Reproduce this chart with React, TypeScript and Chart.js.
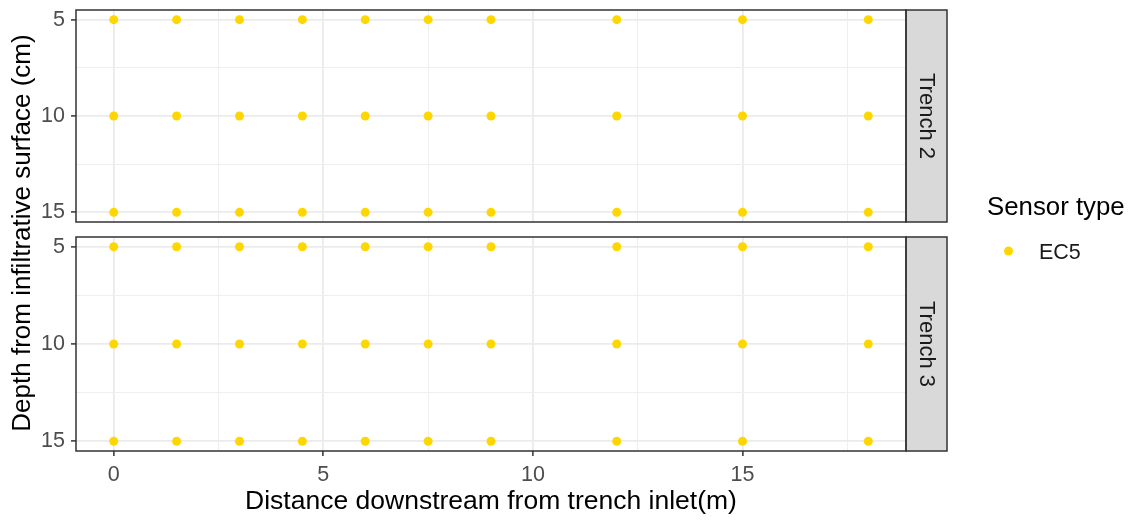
import { useEffect, useRef } from "react";
import { Chart, registerables } from "chart.js";

Chart.register(...registerables);

// Axis ticks (major labelled, minor grid only)
const distanceTicks = [0, 5, 10, 15];
const distanceMinorTicks = [2.5, 7.5, 12.5, 17.5];
const depthTicks = [5, 10, 15];
const depthMinorTicks = [7.5, 12.5];

// Axis limits (data range with 5% expansion)
const distanceLimits = [-0.9, 18.9];
const depthLimits = [4.5, 15.5];

// Sensor distances downstream (m) installed at each depth, per trench
const trench2At5cm = [0, 1.5, 3, 4.5, 6, 7.5, 9, 12, 15, 18];
const trench2At10cm = [0, 1.5, 3, 4.5, 6, 7.5, 9, 12, 15, 18];
const trench2At15cm = [0, 1.5, 3, 4.5, 6, 7.5, 9, 12, 15, 18];
const trench3At5cm = [0, 1.5, 3, 4.5, 6, 7.5, 9, 12, 15, 18];
const trench3At10cm = [0, 1.5, 3, 4.5, 6, 7.5, 9, 12, 15, 18];
const trench3At15cm = [0, 1.5, 3, 4.5, 6, 7.5, 9, 12, 15, 18];

const trenchLabels = ["Trench 2", "Trench 3"];
const sensorTypes = ["EC5"];
const sensorColors = ["#FFD700"];

const xTitle = "Distance downstream from trench inlet(m)";
const yTitle = "Depth from infiltrative surface (cm)";
const legendTitle = "Sensor type";

const FONT = "Arial, 'Liberation Sans', sans-serif";
const W = 1134;
const H = 520;
const PLOT_LEFT = 76;
const PLOT_RIGHT = 906;
const STRIP_W = 41;
const TOP_CANVAS_H = 236;
const TICK_FONT = 21.5;
const TITLE_FONT = 26.5;

type Pt = { x: number; y: number };

function toPoints(rows: [number, number[]][]): Pt[] {
  const out: Pt[] = [];
  rows.forEach(([depth, xs]) => xs.forEach((x) => out.push({ x, y: depth })));
  return out;
}

const trench2Points = toPoints([
  [5, trench2At5cm],
  [10, trench2At10cm],
  [15, trench2At15cm],
]);
const trench3Points = toPoints([
  [5, trench3At5cm],
  [10, trench3At10cm],
  [15, trench3At15cm],
]);

const distanceGrid = [...distanceTicks, ...distanceMinorTicks].sort((a, b) => a - b);
const depthGrid = [...depthTicks, ...depthMinorTicks].sort((a, b) => a - b);

const isMajor = (list: number[], v: any) => list.includes(Number(v));

function panelDecor(label: string) {
  return {
    id: "panelDecor",
    afterDraw(chart: any) {
      const { ctx, chartArea: a } = chart;
      const h = a.bottom - a.top;
      ctx.save();
      ctx.fillStyle = "#D9D9D9";
      ctx.fillRect(a.right, a.top, STRIP_W, h);
      ctx.strokeStyle = "#333333";
      ctx.lineWidth = 1.5;
      ctx.strokeRect(a.right, a.top, STRIP_W, h);
      ctx.strokeRect(a.left, a.top, a.right - a.left, h);
      ctx.translate(a.right + STRIP_W / 2, (a.top + a.bottom) / 2);
      ctx.rotate(Math.PI / 2);
      ctx.font = `22px ${FONT}`;
      ctx.fillStyle = "#1A1A1A";
      ctx.textAlign = "center";
      ctx.textBaseline = "middle";
      ctx.fillText(label, 0, 0);
      ctx.restore();
    },
  };
}

// Shared y title and the legend, drawn on the full-page canvas
const pageDecor = {
  id: "pageDecor",
  afterDraw(chart: any) {
    const { ctx } = chart;
    ctx.save();
    ctx.fillStyle = "#000000";
    ctx.font = `26px ${FONT}`;
    ctx.textAlign = "center";
    ctx.textBaseline = "middle";
    ctx.translate(23, 233);
    ctx.rotate(-Math.PI / 2);
    ctx.fillText(yTitle, 0, 0);
    ctx.restore();

    ctx.save();
    ctx.textAlign = "left";
    ctx.textBaseline = "middle";
    ctx.fillStyle = "#000000";
    ctx.font = `25.8px ${FONT}`;
    ctx.fillText(legendTitle, 987, 207.5);
    sensorTypes.forEach((name, i) => {
      const y = 251 + i * 30;
      ctx.beginPath();
      ctx.fillStyle = sensorColors[i];
      ctx.arc(1008.5, y, 4.5, 0, Math.PI * 2);
      ctx.fill();
      ctx.fillStyle = "#1A1A1A";
      ctx.font = `${TICK_FONT}px ${FONT}`;
      ctx.fillText(name, 1039, y + 2);
    });
    ctx.restore();
  },
};

function buildConfig(points: Pt[], label: string, showX: boolean, padTop: number, padBottom: number, extra: any[]) {
  return {
    type: "scatter" as const,
    data: {
      datasets: [
        {
          label: sensorTypes[0],
          data: points,
          pointRadius: 4.5,
          pointHoverRadius: 4.5,
          pointBackgroundColor: sensorColors[0],
          pointBorderWidth: 0,
        },
      ],
    },
    options: {
      animation: false as const,
      responsive: false,
      devicePixelRatio: 1,
      events: [],
      layout: { padding: { left: 0, right: W - PLOT_RIGHT, top: padTop, bottom: padBottom } },
      plugins: { legend: { display: false }, tooltip: { enabled: false } },
      scales: {
        x: {
          type: "linear" as const,
          min: distanceLimits[0],
          max: distanceLimits[1],
          afterBuildTicks: (s: any) => {
            s.ticks = distanceGrid.map((v) => ({ value: v }));
          },
          afterFit: (s: any) => {
            s.height = showX ? H - 451 : 0;
            s.paddingLeft = 0;
            s.paddingRight = 0;
          },
          ticks: {
            display: showX,
            autoSkip: false,
            maxRotation: 0,
            padding: 6,
            color: "#4D4D4D",
            font: { family: FONT, size: TICK_FONT },
            callback: (v: any) => (isMajor(distanceTicks, v) ? String(v) : ""),
          },
          grid: {
            drawTicks: showX,
            tickLength: 5,
            color: (c: any) => (isMajor(distanceTicks, c.tick?.value) ? "#EBEBEB" : "#EFEFEF"),
            lineWidth: (c: any) => (isMajor(distanceTicks, c.tick?.value) ? 1.8 : 1.1),
            tickColor: (c: any) => (isMajor(distanceTicks, c.tick?.value) ? "#333333" : "rgba(0,0,0,0)"),
            tickWidth: 1.5,
          },
          border: { display: false },
          title: {
            display: showX,
            text: xTitle,
            color: "#000000",
            font: { family: FONT, size: TITLE_FONT },
            padding: { top: 0, bottom: 2 },
          },
        },
        y: {
          type: "linear" as const,
          reverse: true,
          min: depthLimits[0],
          max: depthLimits[1],
          afterBuildTicks: (s: any) => {
            s.ticks = depthGrid.map((v) => ({ value: v }));
          },
          afterFit: (s: any) => {
            s.width = PLOT_LEFT;
            s.paddingTop = 0;
            s.paddingBottom = 0;
          },
          ticks: {
            autoSkip: false,
            padding: 6,
            color: "#4D4D4D",
            font: { family: FONT, size: TICK_FONT },
            callback: (v: any) => (isMajor(depthTicks, v) ? String(v) : ""),
          },
          grid: {
            tickLength: 5,
            color: (c: any) => (isMajor(depthTicks, c.tick?.value) ? "#EBEBEB" : "#EFEFEF"),
            lineWidth: (c: any) => (isMajor(depthTicks, c.tick?.value) ? 1.8 : 1.1),
            tickColor: (c: any) => (isMajor(depthTicks, c.tick?.value) ? "#333333" : "rgba(0,0,0,0)"),
            tickWidth: 1.5,
          },
          border: { display: false },
        },
      },
    },
    plugins: [panelDecor(label), ...extra],
  };
}

export default function App() {
  const topRef = useRef<HTMLCanvasElement>(null);
  const bottomRef = useRef<HTMLCanvasElement>(null);

  useEffect(() => {
    const bottom = new Chart(
      bottomRef.current!,
      buildConfig(trench3Points, trenchLabels[1], true, 237, 0, [pageDecor]) as any
    );
    const top = new Chart(
      topRef.current!,
      buildConfig(trench2Points, trenchLabels[0], false, 10, TOP_CANVAS_H - 222, []) as any
    );
    return () => {
      top.destroy();
      bottom.destroy();
    };
  }, []);

  return (
    <div style={{ position: "absolute", left: 0, top: 0, width: W, height: H, background: "#ffffff" }}>
      <canvas
        ref={bottomRef}
        width={W}
        height={H}
        style={{ position: "absolute", left: 0, top: 0, width: W, height: H }}
      />
      <canvas
        ref={topRef}
        width={W}
        height={TOP_CANVAS_H}
        style={{ position: "absolute", left: 0, top: 0, width: W, height: TOP_CANVAS_H }}
      />
    </div>
  );
}
